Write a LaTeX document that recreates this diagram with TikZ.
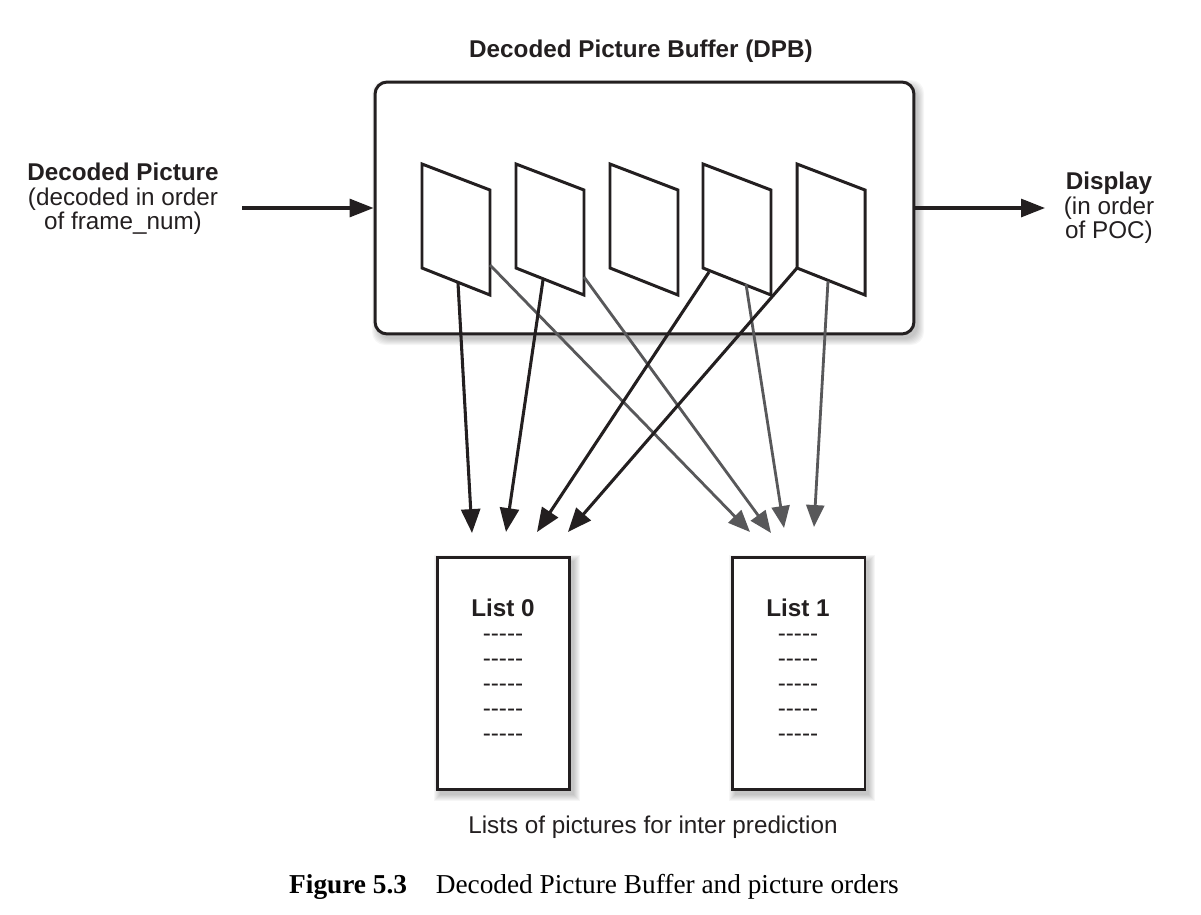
\documentclass[tikz,border=0pt]{standalone}
\usepackage{fontspec}
\setmainfont{Liberation Sans}
\newfontfamily\capfont{Liberation Serif}
\usetikzlibrary{arrows.meta}
\definecolor{ink}{HTML}{231F20}
\definecolor{grayarrow}{HTML}{58585A}
\begin{document}
\begin{tikzpicture}[x=0.02cm,y=-0.02cm,
  lbl/.style={font=\fontsize{13.8}{14}\selectfont, text=ink, inner sep=0pt, align=center},
  bigbox/.style={draw=ink, line width=1.7pt, fill=white, rounded corners=0.24cm, minimum width=10.78cm, minimum height=5.04cm, inner sep=0pt},
  listbox/.style={draw=ink, line width=1.7pt, fill=white, minimum width=2.66cm, minimum height=4.66cm, inner sep=0pt},
  frame/.style={draw=ink, line width=1.7pt, line join=miter},
  blackarrow/.style={draw=ink, line width=1.75pt, -{Triangle[length=13.6pt,width=10.8pt]}},
  grayarr/.style={draw=grayarrow, line width=1.6pt, -{Triangle[length=12.5pt,width=10.2pt]}},
  mainarrow/.style={draw=ink, line width=1.75pt, -{Triangle[length=13.6pt,width=10.2pt]}},
  softshadow/.style={fill=black, opacity=0.035}
]
\useasboundingbox (0,0) rectangle (1201,914);
% shadows
\foreach \d in {0,...,6} {
  \fill[softshadow, rounded corners=0.26cm] ({375+3-\d},{82+4-\d}) rectangle ({914+4+\d},{334+5+\d});
  \fill[softshadow] ({437+3-\d},{557+4-\d}) rectangle ({570+4+\d},{790+5+\d});
  \fill[softshadow] ({732+3-\d},{557+4-\d}) rectangle ({865+4+\d},{790+5+\d});
}
% main nodes
\node[bigbox] (dpb) at (644.5,208) {};
\node[listbox] (l0) at (503.5,673.5) {};
\node[listbox] (l1) at (798.5,673.5) {};
% frames
\foreach \n/\x in {1/422,2/516,3/610,4/703,5/797} {
  \draw[frame] (\x,164) -- ({\x+68},190) -- ({\x+68},295) -- (\x,268) -- cycle;
}
% texts
\node[lbl, font=\fontsize{13.8}{14}\selectfont\bfseries] (title) at (641,51) {Decoded Picture Buffer (DPB)};
\node[lbl] (inlbl) at (123,199) {\textbf{Decoded Picture}\\(decoded in order\\of frame\_num)};
\node[lbl] (outlbl) at (1109,208) {\textbf{Display}\\(in order\\of POC)};
\node[lbl, font=\fontsize{13.8}{14.2}\selectfont] (l0txt) at (503,670) {\textbf{List 0}\\-{}-{}-{}-{}-\\-{}-{}-{}-{}-\\-{}-{}-{}-{}-\\-{}-{}-{}-{}-\\-{}-{}-{}-{}-};
\node[lbl, font=\fontsize{13.8}{14.2}\selectfont] (l1txt) at (798,670) {\textbf{List 1}\\-{}-{}-{}-{}-\\-{}-{}-{}-{}-\\-{}-{}-{}-{}-\\-{}-{}-{}-{}-\\-{}-{}-{}-{}-};
\node[lbl] (lists) at (653,827) {Lists of pictures for inter prediction};
\node[lbl, font=\capfont\fontsize{15.55}{16}\selectfont, text=black] (cap) at (594,887) {\textbf{Figure 5.3}\hspace{1.05em}Decoded Picture Buffer and picture orders};
% coordinates
\coordinate (inL) at (242,208);
\coordinate (outR) at (1045,208);
\coordinate (f1b) at (458,283);
\coordinate (f2b) at (543,280);
\coordinate (f4a) at (709,272);
\coordinate (f5a) at (797,268);
\coordinate (f1r) at (490,265);
\coordinate (f2r) at (584,277);
\coordinate (f4b) at (746,284);
\coordinate (f5b) at (828,281);
\coordinate (t1) at (472,533);
\coordinate (t2) at (506,532);
\coordinate (t3) at (537,532);
\coordinate (t4) at (568,532);
\coordinate (u1) at (750,532);
\coordinate (u2) at (771,533);
\coordinate (u3) at (784,528);
\coordinate (u4) at (814,527);
% connectors
\draw[mainarrow] (inL) -- (dpb.west);
\draw[mainarrow] (dpb.east) -- (outR);
\draw[grayarr] (f1r) -- (u1);
\draw[grayarr] (f2r) -- (u2);
\draw[grayarr] (f4b) -- (u3);
\draw[grayarr] (f5b) -- (u4);
\draw[blackarrow] (f1b) -- (t1);
\draw[blackarrow] (f2b) -- (t2);
\draw[blackarrow] (f4a) -- (t3);
\draw[blackarrow] (f5a) -- (t4);
\end{tikzpicture}
\end{document}
